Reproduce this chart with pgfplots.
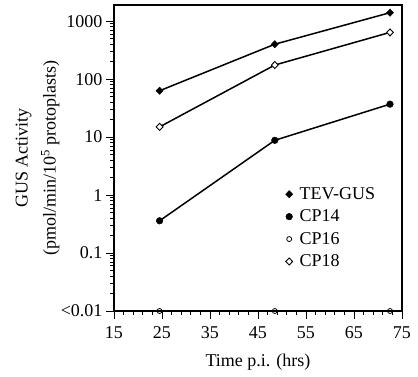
\documentclass[border=0pt]{standalone}
\usepackage{fontspec}
\setmainfont{Liberation Serif}
\usepackage{pgfplots}
\pgfplotsset{compat=1.18}
\begin{document}
\begin{tikzpicture}
\useasboundingbox (-114pt,-66pt) rectangle (304pt,311pt);
\begin{axis}[
  at={(0pt,0pt)}, anchor=south west,
  scale only axis, width=288pt, height=306pt,
  ymode=log, xmin=15, xmax=75, ymin=0.01, ymax=1900,
  xtick={15,25,35,45,55,65,75}, minor x tick num=4,
  xticklabels={15,25,35,45,55,65,75},
  ytick={0.01,0.1,1,10,100,1000},
  yticklabels={{<0.01},0.1,1,10,100,1000},
  minor ytick={0.02,0.03,0.04,0.05,0.06,0.07,0.08,0.09,0.2,0.3,0.4,0.5,0.6,0.7,0.8,0.9,2,3,4,5,6,7,8,9,20,30,40,50,60,70,80,90,200,300,400,500,600,700,800,900},
  tick align=outside, xtick pos=bottom, ytick pos=left,
  major tick length=8pt, minor tick length=4pt,
  axis line style={line width=1.1pt},
  every tick/.style={black, line width=0.8pt},
  tick label style={font=\fontsize{18}{20}\selectfont},
  xticklabel style={yshift=-4pt},
  label style={font=\fontsize{18}{28}\selectfont},
  xlabel={Time p.i. (hrs)},
  ylabel={GUS Activity\\(pmol/min/10\textsuperscript{5} protoplasts)},
  ylabel style={align=center, at={(axis description cs:-0.265,0.5)}, anchor=center},
  xlabel style={at={(axis description cs:0.5,0)}, anchor=base, yshift=-56pt},
  clip=false,
  legend style={draw=none, fill=none, at={(axis description cs:0.585,0.414)}, anchor=north west,
    font=\fontsize{18}{18}\selectfont, row sep=7pt, nodes={inner sep=1pt},
    /tikz/every odd column/.append style={column sep=6pt}},
  legend cell align=left,
  legend image code/.code={\draw[#1] plot coordinates {(0pt,0pt)};},
]
\addplot[black, line width=1.5pt, mark=diamond*, mark size=3.6pt,
  mark options={solid, fill=black, line width=0.5pt, xscale=1.3}]
  coordinates {(24.5,63) (48.5,400) (72.5,1400)};
\addlegendentry{TEV-GUS}
\addplot[black, line width=1.5pt, mark=*, mark size=3.3pt,
  mark options={solid, fill=black, line width=0.5pt}]
  coordinates {(24.5,0.36) (48.5,8.8) (72.5,37)};
\addlegendentry{CP14}
\addplot[black, only marks, mark=o, mark size=2.5pt,
  mark options={solid, fill=white, line width=0.8pt}]
  coordinates {(24.5,0.01) (48.5,0.01) (72.5,0.01)};
\addlegendentry{CP16}
\addplot[black, line width=1.5pt, mark=diamond*, mark size=3.5pt,
  mark options={solid, fill=white, line width=0.9pt, xscale=1.3}]
  coordinates {(24.5,15) (48.5,175) (72.5,640)};
\addlegendentry{CP18}
\end{axis}
\end{tikzpicture}
\end{document}
